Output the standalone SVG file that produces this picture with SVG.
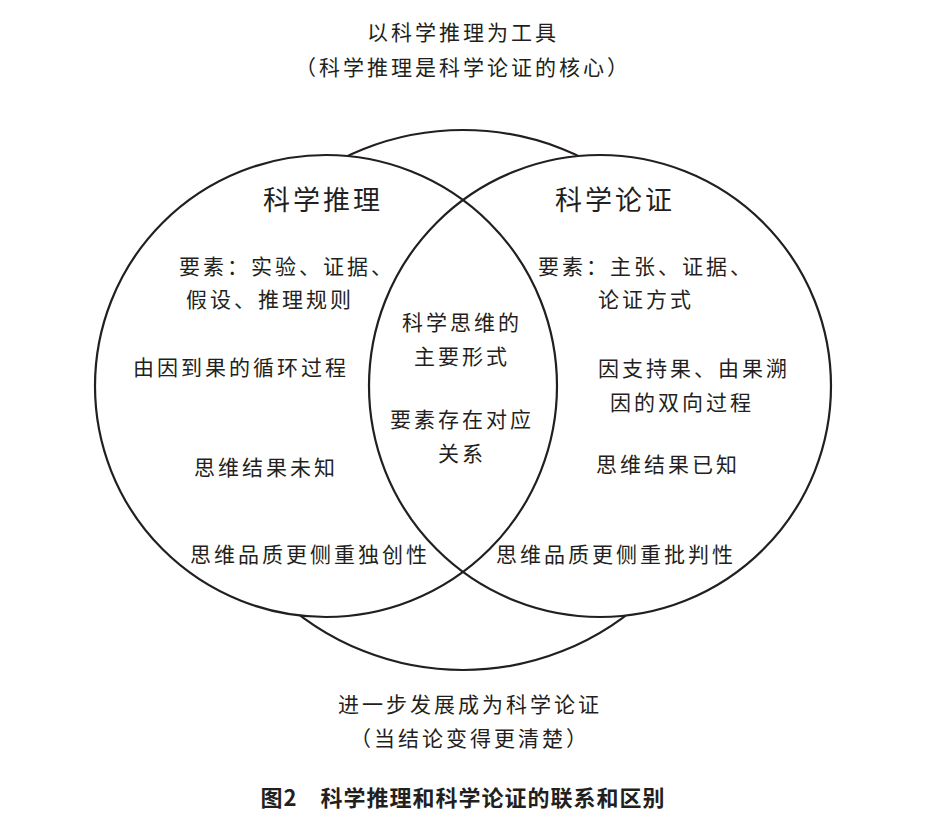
<svg xmlns="http://www.w3.org/2000/svg" width="931" height="837" viewBox="0 0 931 837">
<style>
.c{fill:none;stroke:#231f20;stroke-width:2.2}
.f{fill:#fff;stroke:none}
text{font-family:"Noto Sans CJK SC","Noto Sans",sans-serif;fill:#231f20;font-size:21px;text-anchor:middle;letter-spacing:3px}
.h{font-size:27px}
.cap{font-size:22px;font-weight:bold;letter-spacing:1px}
</style>
<rect width="931" height="837" fill="#fff"/>
<g id="connectors"></g>
<g id="big"><circle class="c" cx="463" cy="400" r="270"/></g>
<circle class="f" cx="326" cy="386" r="231"/>
<circle class="f" cx="600" cy="386" r="231"/>
<g id="left"><circle class="c" cx="326" cy="386" r="231"/></g>
<g id="right"><circle class="c" cx="600" cy="386" r="231"/></g>
<g id="top-label"><text x="463" y="40">以科学推理为工具</text><text x="463" y="75">（科学推理是科学论证的核心）</text></g>
<g id="left-text">
<text class="h" x="323" y="210">科学推理</text>
<text x="287" y="274">要素：实验、证据、</text>
<text x="270" y="307">假设、推理规则</text>
<text x="241" y="375">由因到果的循环过程</text>
<text x="266" y="475">思维结果未知</text>
<text x="310" y="562">思维品质更侧重独创性</text>
</g>
<g id="center-text">
<text x="462" y="330">科学思维的</text>
<text x="462" y="364">主要形式</text>
<text x="462" y="427">要素存在对应</text>
<text x="462" y="461">关系</text>
</g>
<g id="right-text">
<text class="h" x="615" y="210">科学论证</text>
<text x="646" y="274">要素：主张、证据、</text>
<text x="646" y="307">论证方式</text>
<text x="694" y="376">因支持果、由果溯</text>
<text x="682" y="410">因的双向过程</text>
<text x="668" y="472">思维结果已知</text>
<text x="616" y="562">思维品质更侧重批判性</text>
</g>
<g id="bottom-label"><text x="470" y="712">进一步发展成为科学论证</text><text x="470" y="746">（当结论变得更清楚）</text></g>
<g id="caption"><text class="cap" x="463" y="806">图2　科学推理和科学论证的联系和区别</text></g>
</svg>
